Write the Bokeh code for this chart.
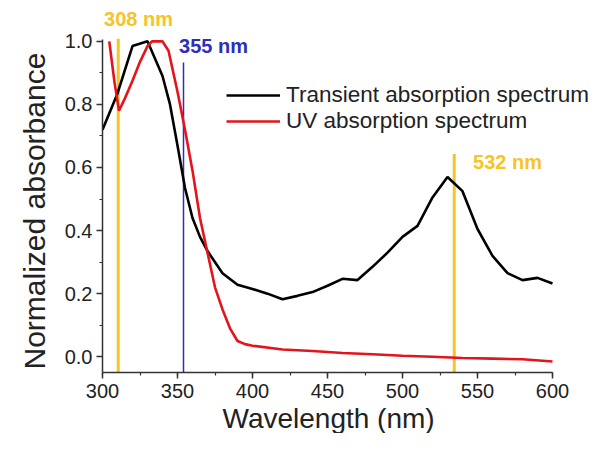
from bokeh.plotting import figure
from bokeh.models import (Range1d, SingleIntervalTicker, Label, Legend, LegendItem,
                          NumeralTickFormatter, Title)
from bokeh.embed import file_html
from bokeh.resources import INLINE

# ---- data ----
ta_wavelength = [300, 310, 320, 330, 340, 345, 350, 355, 360, 365, 370, 380, 390, 400,
                 410, 420, 430, 440, 450, 460, 470, 480, 490, 500, 510, 520, 530,
                 540, 550, 560, 570, 580, 590, 600]
ta_absorbance = [0.72, 0.835, 0.985, 1.0, 0.89, 0.80, 0.67, 0.535, 0.44, 0.38, 0.335,
                 0.265, 0.228, 0.215, 0.20, 0.182, 0.193, 0.205, 0.225, 0.247, 0.243,
                 0.285, 0.33, 0.38, 0.415, 0.505, 0.57, 0.525, 0.405, 0.32, 0.265,
                 0.243, 0.25, 0.232]

uv_wavelength = [304.5, 308, 311, 315, 320, 325, 330, 333, 340, 344, 350, 355, 360, 365,
                 370, 375, 380, 385, 390, 395, 400, 420, 440, 460, 480, 500, 520, 540,
                 560, 580, 600]
uv_absorbance = [1.0, 0.87, 0.78, 0.82, 0.875, 0.935, 0.985, 1.0, 1.0, 0.97, 0.84, 0.72,
                 0.59, 0.44, 0.33, 0.22, 0.15, 0.09, 0.05, 0.04, 0.035, 0.023, 0.018,
                 0.012, 0.008, 0.003, 0.0, -0.004, -0.006, -0.008, -0.015]

laser_lines_nm = [310.5, 354, 534.5]
laser_line_tops = [1.008, 0.933, 0.643]
laser_labels = ["308 nm", "355 nm", "532 nm"]
laser_label_x = [324, 374, 570]
laser_label_y = [1.07, 0.984, 0.618]

x_axis_span = (300, 600)
y_axis_span = (-0.05, 1.006)
x_title = "Wavelength (nm)"
y_title = "Normalized absorbance"
series_names = ["Transient absorption spectrum", "UV absorption spectrum"]

FONT = "Liberation Sans"
YELLOW = "#F6C427"
BLUE = "#2E2EBB"
RED = "#E3141B"

W, H = 597, 433
LEFT = 102
FRAME_H_EXPECTED = 368
FRAME_W = W - LEFT
PX_PER_NM = 1.5
PX_PER_UNIT = 312.0

p = figure(width=W, height=H, output_backend="svg", toolbar_location=None,
           x_range=Range1d(x_axis_span[0], x_axis_span[0] + FRAME_W / PX_PER_NM),
           y_range=Range1d(y_axis_span[0], y_axis_span[0] + FRAME_H_EXPECTED / PX_PER_UNIT),
           min_border_left=LEFT, min_border_right=0, min_border_top=0, min_border_bottom=0)
p.outline_line_color = None
p.xgrid.visible = False
p.ygrid.visible = False
p.background_fill_color = "white"
p.border_fill_color = "white"

# axes
p.xaxis.ticker = SingleIntervalTicker(interval=50, num_minor_ticks=2)
p.yaxis.ticker = SingleIntervalTicker(interval=0.2, num_minor_ticks=2)
p.yaxis.formatter = NumeralTickFormatter(format="0.0")
p.xaxis.bounds = x_axis_span
p.yaxis.bounds = y_axis_span
for ax in (p.xaxis[0], p.yaxis[0]):
    ax.axis_line_width = 1.5
    ax.axis_line_color = "#333333"
    ax.major_tick_line_color = "#333333"
    ax.minor_tick_line_color = "#333333"
    ax.major_tick_line_width = 1.5
    ax.minor_tick_line_width = 1.2
    ax.major_tick_in = 0
    ax.major_tick_out = 6
    ax.minor_tick_in = 0
    ax.minor_tick_out = 3
    ax.major_label_text_font = FONT
    ax.major_label_text_font_size = "20px"
    ax.major_label_text_color = "#222222"
p.xaxis.major_label_standoff = 5
p.yaxis.major_label_standoff = 4

# axis titles (placed beside the axes so they centre like the original)
p.add_layout(Title(text=x_title, align="left", offset=120, standoff=0,
                   text_font=FONT, text_font_size="28px", text_font_style="normal",
                   text_color="#222222"), "below")
p.add_layout(Title(text=y_title, align="left", offset=3, standoff=22,
                   text_font=FONT, text_font_size="30px", text_font_style="normal",
                   text_color="#222222"), "left")

# laser lines
p.segment(x0=laser_lines_nm, y0=[y_axis_span[0]] * 3, x1=laser_lines_nm, y1=laser_line_tops,
          line_color=[YELLOW, BLUE, YELLOW], line_width=[3, 1.5, 3])

# spectra
r_ta = p.line(ta_wavelength, ta_absorbance, line_color="black", line_width=2.6)
r_uv = p.line(uv_wavelength, uv_absorbance, line_color=RED, line_width=2.6)

# labels
label_colors = [YELLOW, BLUE, YELLOW]
for txt, lx, ly, c in zip(laser_labels, laser_label_x, laser_label_y, label_colors):
    p.add_layout(Label(x=lx, y=ly, text=txt, text_color=c, text_font=FONT,
                       text_font_size="20px", text_font_style="bold",
                       text_align="center", text_baseline="middle"))

legend = Legend(items=[LegendItem(label=series_names[0], renderers=[r_ta]),
                       LegendItem(label=series_names[1], renderers=[r_uv])],
                location=(124, 238), orientation="vertical",
                background_fill_alpha=0, border_line_color=None,
                glyph_width=54, glyph_height=20, label_standoff=6, spacing=-2,
                padding=0, margin=0,
                label_text_font=FONT, label_text_font_size="22.5px",
                label_text_color="#222222")
p.add_layout(legend)

open("out.html", "w").write(file_html(p, INLINE))
